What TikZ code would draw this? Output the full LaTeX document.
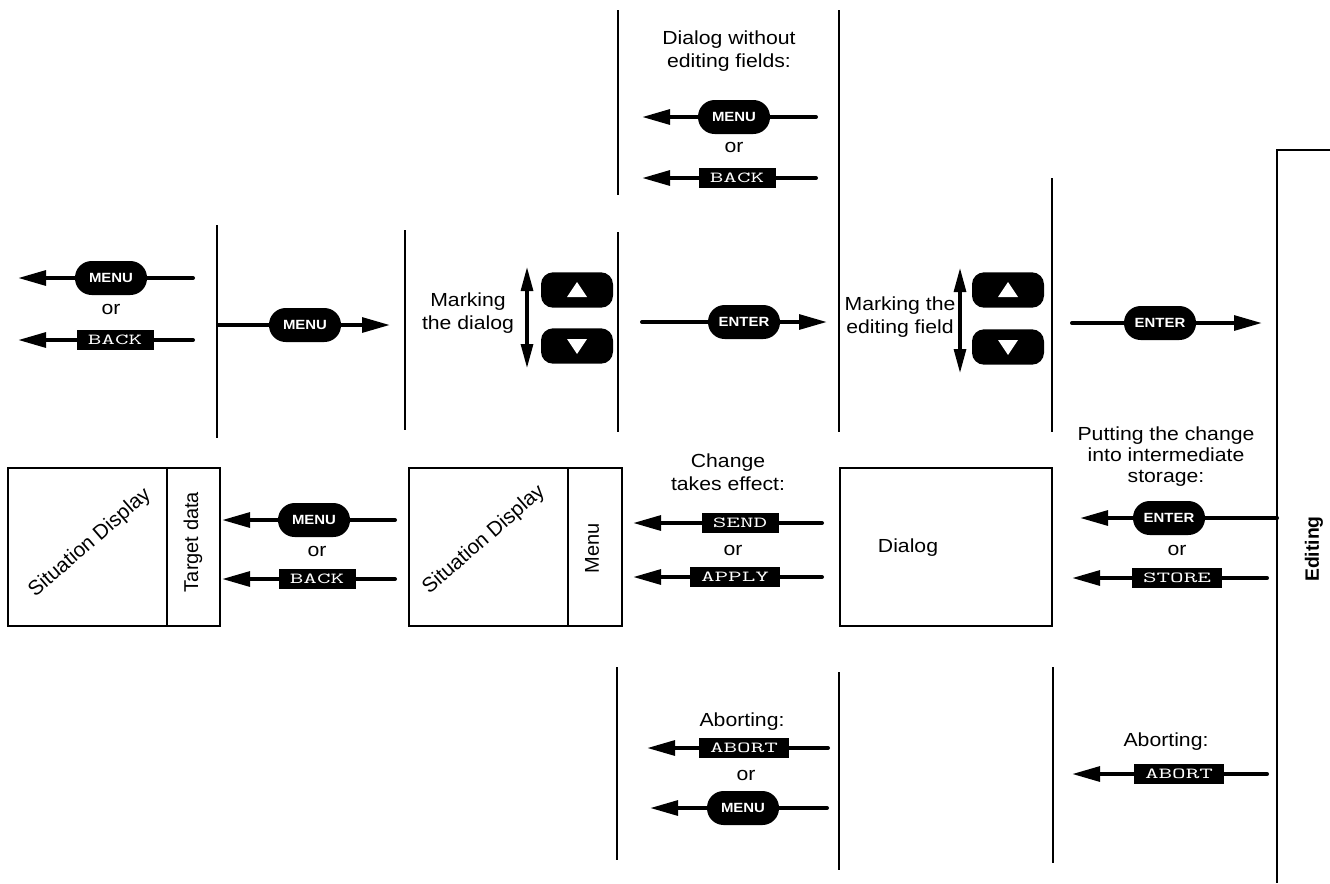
\documentclass[tikz,border=0pt]{standalone}
\usepackage{graphicx}
\usepackage{fontspec}
\setmainfont{Liberation Sans}[FakeStretch=1.12]
\newfontfamily\rotfont{Liberation Sans}
\usetikzlibrary{arrows.meta}
\newcommand\mlabel[1]{\scalebox{1.72}[1]{\ttfamily\fontsize{11.5}{11.5}\selectfont #1}}
\begin{document}
\begin{tikzpicture}[x=0.75pt,y=-0.75pt,
  sepline/.style={line width=1.1pt},
  frame/.style={draw, line width=0.9pt},
  arr/.style={line width=3pt, line cap=round, -{Triangle[length=21pt,width=11pt]}},
  dbl/.style={line width=2.3pt, {Triangle[length=18pt,width=9pt]}-{Triangle[length=18pt,width=9pt]}},
  pill/.style={fill=black, text=white, font=\bfseries\fontsize{10}{10}\selectfont, rounded corners=12.5pt, minimum width=54pt, minimum height=25.5pt, inner sep=0pt},
  keybox/.style={fill=black, text=white, inner xsep=8.5pt, inner ysep=0pt, minimum height=15.5pt},
  navbtn/.style={fill=black, rounded corners=9pt, minimum width=54pt, minimum height=26.5pt, inner sep=0pt},
  txt/.style={align=center, font=\fontsize{14.2}{17.5}\selectfont, inner sep=0pt},
  rtxt/.style={font=\rotfont\fontsize{15}{17}\selectfont, inner sep=0pt}
]
\useasboundingbox (0,0) rectangle (1330,883);

% separator lines
\draw[sepline] (217,225) -- (217,438);
\draw[sepline] (405,230) -- (405,430);
\draw[sepline] (618,10) -- (618,195);
\draw[sepline] (618,232) -- (618,432);
\draw[sepline] (839,10) -- (839,432);
\draw[sepline] (1052,178) -- (1052,432);
\draw[sepline] (1330,150) -- (1277,150) -- (1277,883);
\draw[sepline] (617,667) -- (617,860);
\draw[sepline] (839,672) -- (839,870);
\draw[sepline] (1053,667) -- (1053,863);

% boxes
\draw[frame] (8,468) rectangle (220,626);
\draw[frame] (167,468) -- (167,626);
\draw[frame] (409,468) rectangle (622,626);
\draw[frame] (568,468) -- (568,626);
\draw[frame] (840,468) rectangle (1052,626);

\node[rtxt, rotate=41] (sd1) at (90,543) {\fontsize{15.5}{17}\selectfont Situation Display};
\node[rtxt, rotate=90] (tgt) at (193,542) {Target data};
\node[rtxt, rotate=41] (sd2) at (484,540) {\fontsize{15.5}{17}\selectfont Situation Display};
\node[rtxt, rotate=90] (menutxt) at (592,548) {Menu};
\node[txt] (dialogtxt) at (908,548) {Dialog};
\node[rtxt, rotate=90, font=\rotfont\bfseries\fontsize{14.5}{17}\selectfont] (editing) at (1314,549) {Editing};

% top-left group
\coordinate (a1s) at (193,278); \coordinate (a1e) at (18,278);
\draw[arr] (a1s) -- (a1e);
\node[pill] (p1) at (111,278) {MENU};
\node[txt] (or1) at (111,309) {or};
\coordinate (a2s) at (193,340); \coordinate (a2e) at (18,340);
\draw[arr] (a2s) -- (a2e);
\node[keybox] (k1) at (115,340) {\mlabel{BACK}};

% MENU right
\coordinate (a3s) at (218,325); \coordinate (a3e) at (390,325);
\draw[arr] (a3s) -- (a3e);
\node[pill] (p2) at (305,325) {MENU};

% marking the dialog
\node[txt] (mark1) at (468,313) {Marking\\the dialog};
\coordinate (d1t) at (527,267); \coordinate (d1b) at (527,368);
\draw[dbl] (d1t) -- (d1b);
\node[navbtn] (up1) at (577,290) {};
\node[navbtn] (dn1) at (577,346) {};
\fill[white] ([shift={(0,-8)}]up1.center) -- ([shift={(10,7)}]up1.center) -- ([shift={(-10,7)}]up1.center) -- cycle;
\fill[white] ([shift={(0,8)}]dn1.center) -- ([shift={(10,-7)}]dn1.center) -- ([shift={(-10,-7)}]dn1.center) -- cycle;

% ENTER middle
\coordinate (a4s) at (642,322); \coordinate (a4e) at (827,322);
\draw[arr] (a4s) -- (a4e);
\node[pill] (p3) at (744,322) {ENTER};

% marking the editing field
\node[txt] (mark2) at (900,317) {Marking the\\editing field};
\coordinate (d2t) at (960,268); \coordinate (d2b) at (960,373);
\draw[dbl] (d2t) -- (d2b);
\node[navbtn] (up2) at (1008,290) {};
\node[navbtn] (dn2) at (1008,347) {};
\fill[white] ([shift={(0,-8)}]up2.center) -- ([shift={(10,7)}]up2.center) -- ([shift={(-10,7)}]up2.center) -- cycle;
\fill[white] ([shift={(0,8)}]dn2.center) -- ([shift={(10,-7)}]dn2.center) -- ([shift={(-10,-7)}]dn2.center) -- cycle;

% ENTER right
\coordinate (a5s) at (1072,323); \coordinate (a5e) at (1262,323);
\draw[arr] (a5s) -- (a5e);
\node[pill] (p4) at (1160,323) {ENTER};

% dialog without editing fields
\node[txt] (dwef) at (729,51) {Dialog without\\editing fields:};
\coordinate (a6s) at (816,117); \coordinate (a6e) at (642,117);
\draw[arr] (a6s) -- (a6e);
\node[pill] (p5) at (734,117) {MENU};
\node[txt] (or2) at (734,147) {or};
\coordinate (a7s) at (816,178); \coordinate (a7e) at (642,178);
\draw[arr] (a7s) -- (a7e);
\node[keybox] (k2) at (737,178) {\mlabel{BACK}};

% middle-left
\coordinate (a8s) at (395,520); \coordinate (a8e) at (222,520);
\draw[arr] (a8s) -- (a8e);
\node[pill] (p6) at (314,520) {MENU};
\node[txt] (or3) at (317,551) {or};
\coordinate (a9s) at (395,579); \coordinate (a9e) at (222,579);
\draw[arr] (a9s) -- (a9e);
\node[keybox] (k3) at (317,579) {\mlabel{BACK}};

% change takes effect
\node[txt] (cte) at (728,472) {Change\\takes effect:};
\coordinate (a10s) at (822,523); \coordinate (a10e) at (633,523);
\draw[arr] (a10s) -- (a10e);
\node[keybox] (k4) at (740,523) {\mlabel{SEND}};
\node[txt] (or4) at (733,550) {or};
\coordinate (a11s) at (822,577); \coordinate (a11e) at (633,577);
\draw[arr] (a11s) -- (a11e);
\node[keybox] (k5) at (735,577) {\mlabel{APPLY}};

% putting the change
\node[txt, font=\fontsize{14.2}{15.8}\selectfont] (ptc) at (1166,457) {Putting the change\\into intermediate\\storage:};
\coordinate (a12s) at (1277,518); \coordinate (a12e) at (1080,518);
\draw[arr] (a12s) -- (a12e);
\node[pill] (p7) at (1169,518) {ENTER};
\node[txt] (or5) at (1177,550) {or};
\coordinate (a13s) at (1267,578); \coordinate (a13e) at (1072,578);
\draw[arr] (a13s) -- (a13e);
\node[keybox] (k6) at (1177,578) {\mlabel{STORE}};

% aborting (middle)
\node[txt] (ab1) at (742,722) {Aborting:};
\coordinate (a14s) at (828,748); \coordinate (a14e) at (647,748);
\draw[arr] (a14s) -- (a14e);
\node[keybox] (k7) at (744,748) {\mlabel{ABORT}};
\node[txt] (or6) at (746,775) {or};
\coordinate (a15s) at (827,808); \coordinate (a15e) at (650,808);
\draw[arr] (a15s) -- (a15e);
\node[pill] (p8) at (743,808) {MENU};

% aborting (right)
\node[txt] (ab2) at (1166,742) {Aborting:};
\coordinate (a16s) at (1267,774); \coordinate (a16e) at (1072,774);
\draw[arr] (a16s) -- (a16e);
\node[keybox] (k8) at (1179,774) {\mlabel{ABORT}};
\end{tikzpicture}
\end{document}
